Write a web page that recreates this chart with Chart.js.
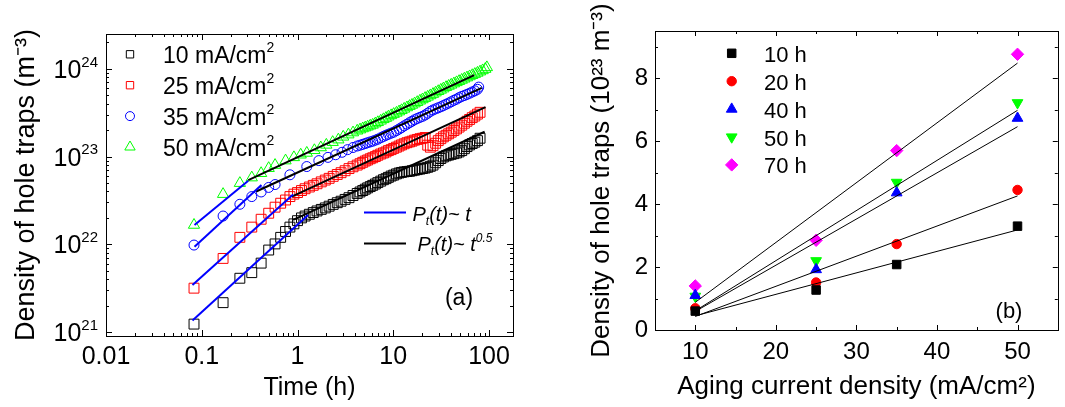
<!DOCTYPE html>
<html>
<head>
<meta charset="utf-8">
<script src="https://cdn.jsdelivr.net/npm/chart.js@4.4.1/dist/chart.umd.min.js"></script>
<style>
  html, body { margin: 0; padding: 0; background: #fff; }
  #wrap { position: relative; width: 1065px; height: 407px; overflow: hidden; }
  canvas { position: absolute; top: 0; }
  #chartA { left: 0; }
  #chartB { left: 530px; }
</style>
</head>
<body>
<div id="wrap">
  <canvas id="chartA" width="530" height="407"></canvas>
  <canvas id="chartB" width="535" height="407"></canvas>
</div>
<script>
// ---------- panel (a): trap density vs time ----------
const timeTicks = [0.01, 0.1, 1, 10, 100];
const timeTickLabels = ['0.01', '0.1', '1', '10', '100'];
const densityTicks = [1e21, 1e22, 1e23, 1e24];
const densityTickExp = ['21', '22', '23', '24'];
const legendA = ['10 mA/cm', '25 mA/cm', '35 mA/cm', '50 mA/cm'];

// sampling times (h); the late part is shared by all four runs
const tLate = [4.2, 4.5, 4.8, 5.1, 5.4, 5.75, 6.1, 6.5, 6.9, 7.4,
  7.9, 8.4, 8.9, 9.5, 10.1, 10.8, 11.5, 12.2, 13, 13.9,
  14.8, 15.7, 16.7, 17.8, 19, 20.2, 21.5, 22.9, 24.4, 26,
  27.7, 29.5, 31.4, 33.4, 35.6, 37.9, 40.3, 43, 45.8, 48.7,
  51.9, 55.3, 58.9, 62.7, 66.8, 71.1, 75.7, 80.6];
const tSquare = [0.083, 0.167, 0.25, 0.333, 0.417, 0.5, 0.583, 0.667, 0.75, 0.833, 0.917, 1.0,
  1.1, 1.2, 1.33, 1.46, 1.6, 1.77, 1.95, 2.14, 2.36, 2.6, 2.85, 3.14, 3.45, 3.8].concat(tLate);
const tCircle = [0.083, 0.167, 0.25, 0.333, 0.417, 0.5, 0.583, 0.833, 1.25, 1.67,
  2.08, 2.5, 2.92, 3.33, 3.8].concat(tLate.slice(0, 47), [78]);
const tTriangle = [0.083, 0.167, 0.25, 0.333, 0.417, 0.5, 0.583, 0.75, 0.917, 1.08,
  1.25, 1.5, 1.75, 2.0, 2.33, 2.67, 3.0, 3.4, 3.8].concat(tLate, [85.8, 91.4, 95]);

// densities (m^-3)
const n10 = [1.23e21, 2.16e21, 4.1e21, 4.75e21, 6.1e21, 8.6e21, 1.01e22, 1.2e22, 1.4e22, 1.57e22, 1.71e22, 1.86e22,
  2.0e22, 2.1e22, 2.2e22, 2.3e22, 2.4e22, 2.5e22, 2.6e22, 2.72e22, 2.85e22, 2.98e22, 3.1e22, 3.25e22, 3.4e22, 3.6e22,
  3.8e22, 3.95e22, 4.1e22, 4.25e22, 4.4e22, 4.55e22, 4.7e22, 4.87e22, 5.05e22, 5.25e22,
  5.45e22, 5.6e22, 5.8e22, 6.0e22, 6.15e22, 6.35e22, 6.5e22, 6.6e22, 6.7e22, 6.75e22,
  6.8e22, 6.9e22, 7.0e22, 7.1e22, 7.2e22, 7.3e22, 7.4e22, 7.55e22, 7.75e22, 8.0e22,
  8.5e22, 9.0e22, 9.5e22, 9.9e22, 1.02e23, 1.04e23, 1.06e23, 1.08e23, 1.1e23, 1.13e23,
  1.17e23, 1.23e23, 1.3e23, 1.36e23, 1.41e23, 1.46e23, 1.52e23, 1.62e23];
const n25 = [3.16e21, 6.9e21, 1.2e22, 1.57e22, 1.93e22, 2.26e22, 2.65e22, 2.94e22, 3.2e22, 3.5e22, 3.73e22, 3.89e22,
  4.1e22, 4.3e22, 4.5e22, 4.7e22, 4.9e22, 5.15e22, 5.4e22, 5.65e22, 5.95e22, 6.25e22, 6.55e22, 6.9e22, 7.3e22, 7.65e22,
  8.0e22, 8.3e22, 8.6e22, 8.9e22, 9.15e22, 9.45e22, 9.7e22, 1.0e23, 1.035e23, 1.07e23,
  1.1e23, 1.13e23, 1.17e23, 1.2e23, 1.24e23, 1.28e23, 1.32e23, 1.36e23, 1.4e23, 1.44e23,
  1.47e23, 1.5e23, 1.54e23, 1.57e23, 1.6e23, 1.62e23, 1.65e23, 1.35e23, 1.28e23, 1.33e23,
  1.42e23, 1.52e23, 1.6e23, 1.68e23, 1.75e23, 1.82e23, 1.9e23, 1.98e23, 2.07e23, 2.17e23,
  2.28e23, 2.4e23, 2.53e23, 2.65e23, 2.78e23, 2.9e23, 3.05e23, 3.2e23];
const n35 = [9.8e21, 2.1e22, 2.86e22, 3.5e22, 3.95e22, 4.45e22, 4.8e22, 6.2e22, 7.7e22, 9.0e22,
  9.8e22, 1.05e23, 1.12e23, 1.2e23, 1.27e23,
  1.32e23, 1.35e23, 1.38e23, 1.41e23, 1.44e23, 1.47e23, 1.5e23, 1.54e23, 1.58e23, 1.64e23,
  1.7e23, 1.75e23, 1.8e23, 1.85e23, 1.9e23, 1.98e23, 2.06e23, 2.14e23, 2.24e23, 2.34e23,
  2.44e23, 2.53e23, 2.63e23, 2.72e23, 2.8e23, 2.88e23, 2.98e23, 3.12e23, 3.28e23, 3.4e23,
  3.5e23, 3.6e23, 3.7e23, 3.82e23, 3.95e23, 4.08e23, 4.22e23, 4.38e23, 4.52e23, 4.7e23,
  4.85e23, 4.98e23, 5.12e23, 5.28e23, 5.45e23, 5.62e23, 5.85e23, 6.2e23];
const n50 = [1.66e22, 3.73e22, 4.98e22, 5.76e22, 6.46e22, 7.37e22, 8.0e22, 9.0e22, 9.8e22, 1.05e23,
  1.1e23, 1.18e23, 1.27e23, 1.36e23, 1.46e23, 1.56e23, 1.68e23, 1.78e23, 1.88e23,
  1.97e23, 2.03e23, 2.09e23, 2.14e23, 2.19e23, 2.25e23, 2.3e23, 2.38e23, 2.46e23, 2.56e23,
  2.66e23, 2.75e23, 2.85e23, 2.95e23, 3.05e23, 3.15e23, 3.26e23, 3.37e23, 3.5e23, 3.63e23,
  3.76e23, 3.88e23, 4.02e23, 4.17e23, 4.33e23, 4.48e23, 4.64e23, 4.8e23, 4.98e23, 5.16e23,
  5.36e23, 5.56e23, 5.76e23, 5.96e23, 6.18e23, 6.38e23, 6.58e23, 6.8e23, 7.02e23, 7.24e23,
  7.48e23, 7.72e23, 7.96e23, 8.2e23, 8.46e23, 8.72e23, 9.0e23, 9.3e23,
  9.6e23, 9.95e23, 1.04e24];

// fitted lines, end points (10, 25, 35, 50 mA/cm2)
const linearFitT = [[0.08, 1.29], [0.08, 0.9], [0.084, 0.42], [0.084, 0.306]];
const linearFitN = [[1.35e21, 2.16e22], [3.44e21, 3.7e22], [9.4e21, 4.75e22], [1.66e22, 5.3e22]];
const sqrtFitT = [[0.9, 90], [0.87, 92], [0.37, 84], [0.306, 70]];
const sqrtFitN = [[1.9e22, 1.92e23], [3.5e22, 3.66e23], [4.0e22, 6.07e23], [5.4e22, 8.5e23]];

// ---------- panel (b): trap density vs aging current ----------
const currentTicks = [10, 20, 30, 40, 50];
const currentTickLabels = ['10', '20', '30', '40', '50'];
const densityBTicks = [0, 2, 4, 6, 8];
const densityBTickLabels = ['0', '2', '4', '6', '8'];
const agingCurrent = [10, 25, 35, 50];
const legendB = ['10 h', '20 h', '40 h', '50 h', '70 h'];
const h10 = [0.6, 1.27, 2.08, 3.3];
const h20 = [0.69, 1.51, 2.73, 4.45];
const h40 = [1.1, 1.92, 4.36, 6.73];
const h50 = [1.07, 2.2, 4.69, 7.22];
const h70 = [1.4, 2.85, 5.7, 8.76];
const fitCurrent = [10, 50];
const fitB = [[0.45, 3.18], [0.43, 4.26], [0.59, 6.46], [0.61, 6.98], [0.88, 8.48]];

// ---------- helpers ----------
const FONT = "'Liberation Sans', Arial, Helvetica, sans-serif";
Chart.defaults.font.family = FONT;
Chart.defaults.color = '#000';

const pts = (xs, ys) => xs.map((x, i) => ({ x: x, y: ys[i] }));

function logMinor(lo, hi) {
  const out = [];
  for (let e = Math.floor(Math.log10(lo)); e <= Math.ceil(Math.log10(hi)); e++) {
    for (let m = 2; m <= 9; m++) {
      const v = m * Math.pow(10, e);
      if (v > lo && v < hi) out.push(v);
    }
  }
  return out;
}

// text with super/subscripts, y = baseline
function rich(ctx, parts, x, y, size, align, italic) {
  const f = p => (italic ? 'italic ' : '') + (p.sup || p.sub ? Math.round(size * 0.6) : size) + 'px ' + FONT;
  let w = 0;
  parts.forEach(p => { ctx.font = f(p); p.w = ctx.measureText(p.t).width; w += p.w; });
  let cx = align === 'right' ? x - w : align === 'center' ? x - w / 2 : x;
  ctx.textAlign = 'left';
  ctx.textBaseline = 'alphabetic';
  parts.forEach(p => {
    ctx.font = f(p);
    ctx.fillText(p.t, cx, y + (p.sup ? -size * 0.45 : p.sub ? size * 0.22 : 0));
    cx += p.w;
  });
}

function marker(ctx, style, r, x, y, color, filled, rotation) {
  ctx.save();
  ctx.strokeStyle = color;
  ctx.fillStyle = filled ? color : 'rgba(0,0,0,0)';
  ctx.lineWidth = 1;
  Chart.helpers.drawPoint(ctx, { pointStyle: style, radius: r, rotation: rotation || 0, borderWidth: 1 }, x, y);
  ctx.restore();
}

// box round the plot with inward ticks on all four sides
const frameTicks = {
  id: 'frameTicks',
  afterDatasetsDraw(chart, args, o) {
    const ctx = chart.ctx, a = chart.chartArea;
    const sx = chart.scales.x, sy = chart.scales.y;
    ctx.save();
    ctx.strokeStyle = '#000';
    ctx.lineWidth = 1;
    ctx.beginPath();
    const tick = (vals, len, horiz) => vals.forEach(v => {
      if (horiz) {
        const p = Math.round(sx.getPixelForValue(v)) + 0.5;
        ctx.moveTo(p, a.bottom); ctx.lineTo(p, a.bottom - len);
        ctx.moveTo(p, a.top); ctx.lineTo(p, a.top + len);
      } else {
        const p = Math.round(sy.getPixelForValue(v)) + 0.5;
        ctx.moveTo(a.left, p); ctx.lineTo(a.left + len, p);
        ctx.moveTo(a.right, p); ctx.lineTo(a.right - len, p);
      }
    });
    tick(o.xMajor, o.major, true);
    tick(o.xMinor, o.minor, true);
    tick(o.yMajor, o.major, false);
    tick(o.yMinor, o.minor, false);
    ctx.stroke();
    ctx.strokeRect(Math.round(a.left) + 0.5, Math.round(a.top) + 0.5,
      Math.round(a.right - a.left), Math.round(a.bottom - a.top));
    ctx.restore();
  }
};

const colorsA = ['#000000', '#ff0000', '#0000ff', '#00ff00'];

const overlayA = {
  id: 'overlayA',
  afterDraw(chart) {
    const ctx = chart.ctx, a = chart.chartArea, sy = chart.scales.y;
    ctx.save();
    ctx.fillStyle = '#000';
    // y tick labels as powers of ten
    densityTicks.forEach((v, i) => {
      rich(ctx, [{ t: '10' }, { t: densityTickExp[i], sup: true }], a.left - 8, sy.getPixelForValue(v) + 9, 25, 'right');
    });
    // series legend
    const styles = [['rect', 5.2], ['rect', 5.2], ['circle', 4.5], ['triangle', 6]];
    legendA.forEach((txt, i) => {
      const my = 54.3 + i * 30.9;
      marker(ctx, styles[i][0], styles[i][1], 130, my, colorsA[i], false);
      ctx.fillStyle = '#000';
      rich(ctx, [{ t: txt }, { t: '2', sup: true }], 163, my + 8.5, 23, 'left');
    });
    // fit legend
    ctx.lineWidth = 2;
    ctx.strokeStyle = '#0000ff';
    ctx.beginPath(); ctx.moveTo(364, 212.5); ctx.lineTo(406, 212.5); ctx.stroke();
    ctx.strokeStyle = '#000';
    ctx.beginPath(); ctx.moveTo(364, 243.5); ctx.lineTo(406, 243.5); ctx.stroke();
    ctx.fillStyle = '#000';
    rich(ctx, [{ t: 'P' }, { t: 't', sub: true }, { t: '(t)~ t' }], 412.5, 220.5, 20, 'left', true);
    rich(ctx, [{ t: 'P' }, { t: 't', sub: true }, { t: '(t)~ t' }, { t: '0.5', sup: true }], 417.5, 250.5, 20, 'left', true);
    ctx.font = '23px ' + FONT;
    ctx.textAlign = 'center';
    ctx.textBaseline = 'alphabetic';
    ctx.fillText('(a)', 459, 304.5);
    ctx.restore();
  }
};

const scatterA = (t, n, color, style, r) => ({
  data: pts(t, n), showLine: false, order: 1,
  pointStyle: style, pointRadius: r, pointBorderWidth: 1,
  pointBorderColor: color, pointBackgroundColor: 'rgba(0,0,0,0)'
});
const fitLine = (xs, ys, color, width) => ({
  data: pts(xs, ys), showLine: true, order: 0,
  borderColor: color, borderWidth: width, pointRadius: 0, fill: false
});

const datasetsA = [
  scatterA(tSquare, n10, colorsA[0], 'rect', 7),
  scatterA(tSquare, n25, colorsA[1], 'rect', 7),
  scatterA(tCircle, n35, colorsA[2], 'circle', 5),
  scatterA(tTriangle, n50, colorsA[3], 'triangle', 6.5)
];
linearFitT.forEach((t, i) => datasetsA.push(fitLine(t, linearFitN[i], '#0000ff', 2)));
sqrtFitT.forEach((t, i) => datasetsA.push(fitLine(t, sqrtFitN[i], '#000000', 2)));

new Chart(document.getElementById('chartA'), {
  type: 'scatter',
  data: { datasets: datasetsA },
  options: {
    responsive: false,
    animation: false,
    events: [],
    layout: { padding: { left: 0, right: 17, top: 34, bottom: 0 } },
    plugins: {
      legend: { display: false },
      tooltip: { enabled: false },
      frameTicks: {
        xMajor: timeTicks, xMinor: logMinor(0.01, 178),
        yMajor: densityTicks, yMinor: logMinor(9e20, 2.5e24),
        major: 6, minor: 3
      }
    },
    scales: {
      x: {
        type: 'logarithmic', min: 0.01, max: 178,
        afterBuildTicks: s => { s.ticks = timeTicks.map(v => ({ value: v })); },
        afterFit: s => { s.height = 71; },
        grid: { display: false, drawTicks: false },
        border: { display: false },
        ticks: { padding: 6, autoSkip: false, maxRotation: 0, font: { size: 25 }, color: '#000',
          callback: (v, i) => timeTickLabels[i] },
        title: { display: true, text: 'Time (h)', font: { size: 25 }, color: '#000', padding: { top: 0, bottom: 4 } }
      },
      y: {
        type: 'logarithmic', min: 9e20, max: 2.5e24,
        afterBuildTicks: s => { s.ticks = densityTicks.map(v => ({ value: v })); },
        afterFit: s => { s.width = 106; },
        grid: { display: false, drawTicks: false },
        border: { display: false },
        ticks: { display: false },
        title: { display: true, text: 'Density of hole traps (m⁻³)', font: { size: 27 }, color: '#000', padding: { top: 10, bottom: 0 } }
      }
    }
  },
  plugins: [frameTicks, overlayA]
});

// ---------- panel (b) ----------
const colorsB = ['#000000', '#ff0000', '#0000ff', '#00ff00', '#ff00ff'];
const stylesB = [['rect', 6, 0], ['circle', 4.7, 0], ['triangle', 6.2, 0], ['triangle', 6.2, 180], ['rectRot', 6.2, 0]];
const valuesB = [h10, h20, h40, h50, h70];

const overlayB = {
  id: 'overlayB',
  afterDraw(chart) {
    const ctx = chart.ctx;
    ctx.save();
    legendB.forEach((txt, i) => {
      const my = 53.3 + i * 27.9;
      marker(ctx, stylesB[i][0], stylesB[i][1], 201.7, my, colorsB[i], true, stylesB[i][2]);
      ctx.fillStyle = '#000';
      rich(ctx, [{ t: txt }], 234, my + 8.5, 22, 'left');
    });
    ctx.fillStyle = '#000';
    ctx.font = '22px ' + FONT;
    ctx.textAlign = 'center';
    ctx.textBaseline = 'alphabetic';
    ctx.fillText('(b)', 479, 318);
    ctx.restore();
  }
};

const datasetsB = valuesB.map((v, i) => ({
  data: pts(agingCurrent, v), showLine: false, order: 1,
  pointStyle: stylesB[i][0], pointRadius: stylesB[i][1], rotation: stylesB[i][2],
  pointBorderWidth: 1, pointBorderColor: colorsB[i], pointBackgroundColor: colorsB[i]
}));
fitB.forEach(f => datasetsB.push(fitLine(fitCurrent, f, '#000000', 1)));

new Chart(document.getElementById('chartB'), {
  type: 'scatter',
  data: { datasets: datasetsB },
  options: {
    responsive: false,
    animation: false,
    events: [],
    layout: { padding: { left: 0, right: 3, top: 31, bottom: 0 } },
    plugins: {
      legend: { display: false },
      tooltip: { enabled: false },
      frameTicks: {
        xMajor: currentTicks, xMinor: [15, 25, 35, 45],
        yMajor: densityBTicks, yMinor: [1, 3, 5, 7, 9],
        major: 5, minor: 3
      }
    },
    scales: {
      x: {
        type: 'linear', min: 5, max: 55,
        afterBuildTicks: s => { s.ticks = currentTicks.map(v => ({ value: v })); },
        afterFit: s => { s.height = 77; },
        grid: { display: false, drawTicks: false },
        border: { display: false },
        ticks: { padding: 8, autoSkip: false, maxRotation: 0, font: { size: 24 }, color: '#000',
          callback: (v, i) => currentTickLabels[i] },
        title: { display: true, text: 'Aging current density (mA/cm²)', font: { size: 26 }, color: '#000', padding: { top: 0, bottom: 5 } }
      },
      y: {
        type: 'linear', min: 0, max: 9.5,
        afterBuildTicks: s => { s.ticks = densityBTicks.map(v => ({ value: v })); },
        afterFit: s => { s.width = 125; },
        grid: { display: false, drawTicks: false },
        border: { display: false },
        ticks: { padding: 7, font: { size: 24 }, color: '#000',
          callback: (v, i) => densityBTickLabels[i] },
        title: { display: true, text: 'Density of hole traps (10²³ m⁻³)', font: { size: 26 }, color: '#000', padding: { top: 56, bottom: 0 } }
      }
    }
  },
  plugins: [frameTicks, overlayB]
});
</script>
</body>
</html>
